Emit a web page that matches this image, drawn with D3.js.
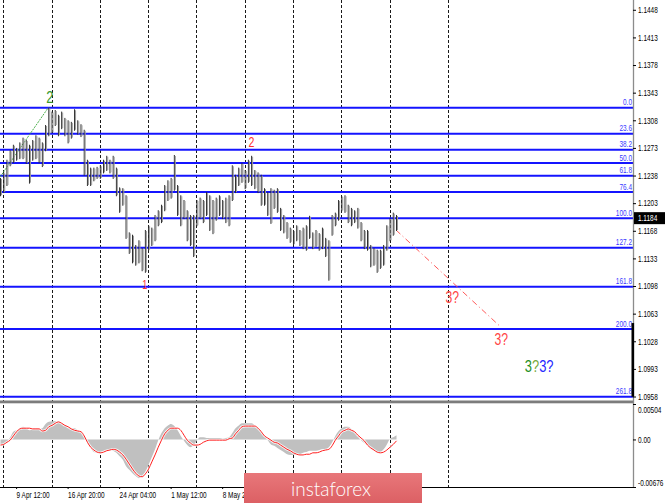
<!DOCTYPE html>
<html><head><meta charset="utf-8">
<script src="https://cdn.jsdelivr.net/npm/d3@7"></script>
<style>
body{margin:0;background:#fff;overflow:hidden;}
svg{display:block;}
</style></head><body>
<svg id="c" width="665" height="504"></svg>
<script>
// ---------- data ----------
const barHigh=[1.1235,1.1242,1.1258,1.1270,1.1277,1.1273,1.1280,1.1286,1.1283,1.1277,
1.1283,1.1289,1.1286,1.1280,1.1302,1.1324,1.1319,1.1321,1.1315,1.1319,
1.1311,1.1308,1.1306,1.1322,1.1308,1.1303,1.1296,1.1258,1.1248,1.1248,
1.1249,1.1251,1.1258,1.1263,1.1258,1.1263,1.1248,1.1223,1.1222,1.1213,
1.1166,1.1163,1.1150,1.1156,1.1146,1.1169,1.1175,1.1172,1.1188,1.1194,
1.1201,1.1226,1.1232,1.1235,1.1264,1.1226,1.1213,1.1207,1.1194,1.1188,
1.1188,1.1207,1.1210,1.1207,1.1217,1.1213,1.1207,1.1210,1.1213,1.1207,
1.1210,1.1213,1.1251,1.1239,1.1248,1.1254,1.1245,1.1258,1.1263,1.1245,
1.1242,1.1239,1.1222,1.1217,1.1222,1.1220,1.1222,1.1197,1.1188,1.1179,
1.1172,1.1169,1.1175,1.1169,1.1172,1.1175,1.1187,1.1166,1.1169,1.1165,
1.1172,1.1159,1.1156,1.1188,1.1191,1.1207,1.1212,1.1213,1.1201,1.1197,
1.1194,1.1197,1.1179,1.1169,1.1169,1.1150,1.1146,1.1144,1.1144,1.1150,
1.1175,1.1184,1.1191,1.1188];
const barLow=[1.1213,1.1217,1.1226,1.1251,1.1255,1.1258,1.1260,1.1260,1.1254,1.1229,
1.1258,1.1260,1.1255,1.1250,1.1270,1.1289,1.1293,1.1302,1.1289,1.1298,
1.1289,1.1280,1.1286,1.1296,1.1291,1.1288,1.1239,1.1226,1.1226,1.1232,
1.1235,1.1235,1.1242,1.1245,1.1242,1.1235,1.1213,1.1192,1.1201,1.1159,
1.1140,1.1128,1.1125,1.1128,1.1118,1.1116,1.1144,1.1150,1.1156,1.1175,
1.1179,1.1194,1.1207,1.1210,1.1220,1.1188,1.1175,1.1184,1.1156,1.1150,
1.1136,1.1175,1.1184,1.1179,1.1188,1.1169,1.1165,1.1182,1.1188,1.1184,
1.1179,1.1175,1.1207,1.1217,1.1226,1.1230,1.1222,1.1230,1.1226,1.1222,
1.1217,1.1201,1.1201,1.1188,1.1178,1.1197,1.1192,1.1169,1.1166,1.1159,
1.1154,1.1151,1.1156,1.1150,1.1146,1.1144,1.1159,1.1146,1.1149,1.1144,
1.1146,1.1136,1.1106,1.1163,1.1175,1.1182,1.1194,1.1192,1.1179,1.1175,
1.1179,1.1172,1.1156,1.1146,1.1144,1.1123,1.1125,1.1116,1.1121,1.1125,
1.1144,1.1156,1.1163,1.1169];
const oscHist=[-0.0007,-0.0007,-0.0004,0.0003,0.0011,0.0013,0.0016,0.0018,0.0016,0.0013,
0.0015,0.0016,0.0015,0.0016,0.0022,0.0025,0.0026,0.0026,0.0025,0.0023,
0.0020,0.0016,0.0016,0.0016,0.0013,0.0011,0.0005,-0.0005,-0.0012,-0.0018,
-0.0019,-0.0018,-0.0016,-0.0015,-0.0015,-0.0016,-0.0019,-0.0024,-0.0029,-0.0038,
-0.0043,-0.0048,-0.0052,-0.0055,-0.0053,-0.0046,-0.0036,-0.0025,-0.0014,-0.0001,
0.0009,0.0016,0.0020,0.0022,0.0019,0.0013,0.0005,-0.0002,-0.0008,-0.0011,
-0.0008,-0.0002,0.0003,0.0003,0.0002,0.0002,0.0002,0.0002,0.0002,0.0001,
0.0002,0.0003,0.0009,0.0016,0.0020,0.0023,0.0023,0.0023,0.0023,0.0020,
0.0016,0.0011,0.0005,-0.0001,-0.0007,-0.0009,-0.0012,-0.0015,-0.0018,-0.0021,
-0.0022,-0.0022,-0.0022,-0.0021,-0.0019,-0.0018,-0.0016,-0.0016,-0.0016,-0.0015,
-0.0014,-0.0014,-0.0011,-0.0004,0.0005,0.0012,0.0016,0.0018,0.0018,0.0015,
0.0011,0.0005,-0.0001,-0.0005,-0.0009,-0.0014,-0.0016,-0.0019,-0.0018,-0.0014,
-0.0007,0.0001,0.0003,0.0006];
const oscSignal=[-0.0008,-0.0007,-0.0004,-0.0001,0.0005,0.0011,0.0015,0.0016,0.0016,0.0016,
0.0015,0.0015,0.0015,0.0012,0.0013,0.0018,0.0020,0.0023,0.0025,0.0023,
0.0020,0.0018,0.0015,0.0013,0.0012,0.0011,0.0005,-0.0004,-0.0011,-0.0015,
-0.0018,-0.0019,-0.0018,-0.0016,-0.0015,-0.0014,-0.0015,-0.0018,-0.0022,-0.0028,
-0.0035,-0.0042,-0.0048,-0.0052,-0.0053,-0.0049,-0.0042,-0.0032,-0.0022,-0.0011,
-0.0001,0.0008,0.0013,0.0016,0.0016,0.0016,0.0013,0.0006,-0.0001,-0.0005,
-0.0008,-0.0008,-0.0007,-0.0004,-0.0002,-0.0001,-0.0001,-0.0001,-0.0001,-0.0001,
-0.0001,0.0001,0.0002,0.0008,0.0013,0.0018,0.0019,0.0019,0.0019,0.0019,
0.0016,0.0011,0.0005,0.0002,-0.0001,-0.0004,-0.0005,-0.0008,-0.0011,-0.0014,
-0.0016,-0.0019,-0.0021,-0.0022,-0.0022,-0.0021,-0.0021,-0.0019,-0.0019,-0.0018,
-0.0016,-0.0015,-0.0014,-0.0009,-0.0001,0.0005,0.0011,0.0013,0.0015,0.0013,
0.0011,0.0006,0.0002,-0.0002,-0.0008,-0.0012,-0.0015,-0.0018,-0.0019,-0.0018,
-0.0015,-0.0011,-0.0007,-0.0002];
const lastPrice=1.1184;
const priceTicks=[1.1448,1.1413,1.1378,1.1343,1.1308,1.1273,1.1238,1.1203,1.1168,1.1133,1.1098,1.1063,1.1028,1.0993,1.0958];
const oscTicks=[0.00504,0,-0.00676];
const oscTickLabels=["0.00504","0.00","-0.00676"];
const timeLabels=["2 Apr 04:00","9 Apr 12:00","16 Apr 20:00","24 Apr 04:00","1 May 12:00","8 May 20:00","30 May 20:00"];
const timeLabelBars=[-11,5,21,37,53,69,118];
const gridBars=[1,16,31,46,61,76,91,106,121,139];
const fibLevels=["0.0","23.6","38.2","50.0","61.8","76.4","100.0","127.2","161.8","200.0","261.8"];
const fibPrices=[1.13239,1.12910,1.12707,1.12538,1.12377,1.12171,1.11838,1.11465,1.10971,1.10435,1.09577];
const waveLine=[[0,1.1236],[15,1.1324]];
const forecastLine=[[123,1.1169],[155.3,1.1047]];
const waveLabels=[
  {t:"2",bar:15.5,price:1.1330,size:17,color:"#3a9a2e",anchor:"middle"},
  {t:"2",bar:78.1,price:1.1274,size:14,color:"#ff3030",anchor:"middle"},
  {t:"1",bar:45,price:1.1094,size:12,color:"#ff3030",anchor:"middle"},
  {t:"3?",bar:140.5,price:1.1076,size:16,color:"#ff4545",anchor:"middle"},
  {t:"3?",bar:155.7,price:1.1023,size:16,color:"#ff4545",anchor:"middle"}
];
const comboLabel={bar:163,price:1.0989,size:17};

// ---------- layout ----------
const SX=0.76;
const svg=d3.select("#c");
const plotR=633, mainB=400, oscT=404, oscB=487;
const x=d3.scaleLinear().domain([0,123]).range([0,396]);
const y=d3.scaleLinear().domain([1.09536,1.14604]).range([mainB,0]);
const yo=d3.scaleLinear().domain([-0.00676,0.00504]).range([oscB,oscT]);
const FONT="'Liberation Sans', Arial, sans-serif";

svg.append("rect").attr("width",665).attr("height",504).attr("fill","#fff");
const defs=svg.append("defs");
defs.append("clipPath").attr("id","cm").append("rect").attr("x",0).attr("y",0).attr("width",plotR).attr("height",mainB);
defs.append("clipPath").attr("id","co").append("rect").attr("x",0).attr("y",oscT).attr("width",plotR).attr("height",oscB-oscT);

// grid
svg.append("g").selectAll("line").data(gridBars).join("line")
  .attr("x1",d=>Math.round(x(d))+0.5).attr("x2",d=>Math.round(x(d))+0.5)
  .attr("y1",0).attr("y2",oscB)
  .attr("stroke","#1a1a1a").attr("stroke-width",1).attr("stroke-dasharray","3,2");

const main=svg.append("g").attr("clip-path","url(#cm)");
// fib lines
main.append("g").selectAll("line").data(fibPrices).join("line")
  .attr("x1",0).attr("x2",plotR).attr("y1",d=>y(d)).attr("y2",d=>y(d))
  .attr("stroke","#1414ff").attr("stroke-width",2);
// fib labels
main.append("g").selectAll("text").data(fibLevels).join("text")
  .attr("transform",(d,i)=>`translate(${plotR-1},${y(fibPrices[i])-2.5}) scale(${SX},1)`)
  .attr("text-anchor","end").attr("font-family",FONT).attr("font-size",8.5)
  .attr("fill","#3a3aff").text(d=>d);

// wave line
main.append("path").attr("d",d3.line().x(d=>x(d[0])).y(d=>y(d[1]))(waveLine))
  .attr("stroke","#4caf4c").attr("stroke-width",1).attr("fill","none").attr("stroke-dasharray","2,1");
// forecast
main.append("path").attr("d",d3.line().x(d=>x(d[0])).y(d=>y(d[1]))(forecastLine))
  .attr("stroke","#ff5a5a").attr("stroke-width",1).attr("fill","none").attr("stroke-dasharray","6,3,1,3");

// bars
const bars=main.append("g");
bars.selectAll("line.a").data(barHigh).join("line").attr("class","a")
  .attr("x1",(d,i)=>x(i)+0.5).attr("x2",(d,i)=>x(i)+0.5)
  .attr("y1",d=>y(d)).attr("y2",(d,i)=>y(barLow[i])+1)
  .attr("stroke","#2e2e2e").attr("stroke-width",1);
bars.selectAll("line.b").data(barHigh).join("line").attr("class","b")
  .attr("x1",(d,i)=>x(i)+1.5).attr("x2",(d,i)=>x(i)+1.5)
  .attr("y1",d=>y(d)+1).attr("y2",(d,i)=>y(barLow[i]))
  .attr("stroke","#9a9a9a").attr("stroke-width",1);

// wave labels
svg.append("g").selectAll("text").data(waveLabels).join("text")
  .attr("transform",d=>`translate(${x(d.bar)},${y(d.price)}) scale(${SX},1)`)
  .attr("text-anchor",d=>d.anchor).attr("font-family",FONT)
  .attr("font-size",d=>d.size).attr("fill",d=>d.color).text(d=>d.t);
const combo=svg.append("text")
  .attr("transform",`translate(${x(comboLabel.bar)},${y(comboLabel.price)}) scale(${SX},1)`)
  .attr("font-family",FONT).attr("font-size",comboLabel.size);
combo.append("tspan").attr("fill","#1f8f1f").text("3");
combo.append("tspan").attr("fill","#79a83a").text("?");
combo.append("tspan").attr("fill","#2525ff").text("3?");

// separator
svg.append("rect").attr("x",0).attr("y",400.5).attr("width",plotR).attr("height",2.8).attr("fill","#7c7c7c");

// oscillator
const osc=svg.append("g").attr("clip-path","url(#co)");
osc.append("path").datum(oscHist)
  .attr("d",d3.area().x((d,i)=>x(i)+0.5).y0(yo(0)).y1(d=>yo(d)).curve(d3.curveMonotoneX))
  .attr("fill","#c0c0c0");
osc.append("path").datum(oscSignal)
  .attr("d",d3.line().x((d,i)=>x(i)+0.5).y(d=>yo(d)).curve(d3.curveMonotoneX))
  .attr("fill","none").attr("stroke","#fff").attr("stroke-width",2.6).attr("opacity",0.8);
osc.append("path").datum(oscSignal)
  .attr("d",d3.line().x((d,i)=>x(i)+0.5).y(d=>yo(d)).curve(d3.curveMonotoneX))
  .attr("fill","none").attr("stroke","#ff2020").attr("stroke-width",1);

// right axis line
svg.append("line").attr("x1",plotR+0.5).attr("x2",plotR+0.5).attr("y1",0).attr("y2",oscB)
  .attr("stroke","#8c8c8c").attr("stroke-width",1.3);
svg.append("rect").attr("x",631.5).attr("y",y(fibPrices[9])-6).attr("width",2.6).attr("height",y(fibPrices[10])-y(fibPrices[9])+6).attr("fill","#000");

// price axis
const ya=svg.append("g").attr("transform",`translate(${plotR},0)`)
  .call(d3.axisRight(y).tickValues(priceTicks).tickSize(3).tickPadding(3.6).tickFormat(d3.format(".4f")));
ya.select(".domain").remove();
ya.selectAll("line").attr("stroke","#000");
ya.selectAll("text").attr("font-family",FONT).attr("font-size",8.5).attr("fill","#000")
  .attr("transform",`scale(${SX},1)`);

// current price box
const ly=y(lastPrice);
svg.append("rect").attr("x",634).attr("y",ly-6).attr("width",31).attr("height",12).attr("fill","#000");
svg.append("text").attr("transform",`translate(638,${ly+3}) scale(${SX},1)`)
  .attr("font-family",FONT).attr("font-size",8.5).attr("fill","#fff").text(d3.format(".4f")(lastPrice));

// osc axis
const oa=svg.append("g").attr("transform",`translate(${plotR},0)`)
  .call(d3.axisRight(yo).tickValues(oscTicks).tickSize(3).tickPadding(3.6).tickFormat((d,i)=>oscTickLabels[i]));
oa.select(".domain").remove();
oa.selectAll("line").attr("stroke","#000");
oa.selectAll("text").attr("font-family",FONT).attr("font-size",8.5).attr("fill","#000")
  .attr("transform",`scale(${SX},1)`)
  .attr("dy",(d,i)=>i===0?"0.95em":(i===2?"-0.2em":"0.32em"));

// bottom axis
svg.append("line").attr("x1",0).attr("x2",plotR+1).attr("y1",oscB+0.5).attr("y2",oscB+0.5).attr("stroke","#000");
const xa=svg.append("g").attr("transform",`translate(0,${oscB})`)
  .call(d3.axisBottom(x).tickValues(timeLabelBars).tickSize(2).tickPadding(2.5).tickFormat((d,i)=>timeLabels[i]));
xa.select(".domain").remove();
xa.selectAll("line").attr("stroke","#000");
xa.selectAll("text").attr("font-family",FONT).attr("font-size",8.5).attr("fill","#000")
  .attr("text-anchor","start").attr("transform",`scale(${SX},1)`);

// logo
const lg=defs.append("linearGradient").attr("id","lg").attr("x1",0).attr("x2",0).attr("y1",0).attr("y2",1);
lg.append("stop").attr("offset","0").attr("stop-color","#e8777a");
lg.append("stop").attr("offset","1").attr("stop-color","#dc6064");
svg.append("rect").attr("x",244).attr("y",473).attr("width",178).attr("height",30).attr("fill","url(#lg)");
svg.append("text").attr("x",331).attr("y",496).attr("text-anchor","middle")
  .attr("font-family","Lato, 'Open Sans', sans-serif").attr("font-weight",300).attr("font-size",20)
  .attr("fill","#fff").attr("textLength",80).attr("lengthAdjust","spacingAndGlyphs").text("instaforex");
</script>
</body></html>
